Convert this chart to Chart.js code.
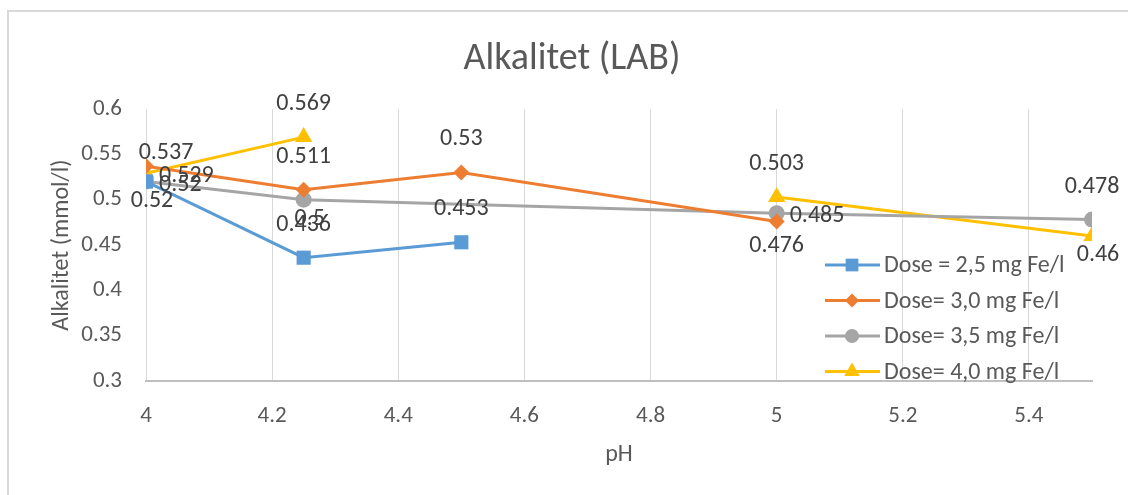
<!DOCTYPE html>
<html>
<head>
<meta charset="utf-8">
<script src="https://cdn.jsdelivr.net/npm/chart.js@4.4.1/dist/chart.umd.min.js"></script>
<style>
  html, body { margin: 0; padding: 0; background: #fff; }
  #wrap { position: relative; width: 1128px; height: 495px; overflow: hidden; }
  #frame { position: absolute; left: 7px; top: 10px; width: 1200px; height: 600px;
           border-left: 2px solid #d9d9d9; border-top: 2px solid #d9d9d9; }
  canvas { position: absolute; left: 0; top: 0; }
</style>
</head>
<body>
<div id="wrap">
  <div id="frame"></div>
  <canvas id="chart" width="1128" height="495"></canvas>
</div>
<script>
// pH values and measured alkalinity per iron dose (null = not measured)
const phValues = [4, 4.25, 4.5, 5, 5.5];
const dose25 = [0.52, 0.436, 0.453, null, null];
const dose30 = [0.537, 0.511, 0.53, 0.476, null];
const dose35 = [0.52, 0.5, null, 0.485, 0.478];
const dose40 = [0.529, 0.569, null, 0.503, 0.46];
const seriesNames = ['Dose = 2,5 mg Fe/l', 'Dose= 3,0 mg Fe/l', 'Dose= 3,5 mg Fe/l', 'Dose= 4,0 mg Fe/l'];
const chartTitle = 'Alkalitet (LAB)';

const FONT = 'Carlito, Lato, "Open Sans", sans-serif';
const TEXT = '#595959';

const toPoints = arr => phValues.map((x, i) => ({ x: x, y: arr[i] }));

function series(idx, values, color, style, radius, spanGaps, labelPos) {
  return {
    label: seriesNames[idx],
    data: toPoints(values),
    borderColor: color,
    backgroundColor: color,
    borderWidth: 3,
    pointStyle: style,
    pointRadius: radius,
    pointHoverRadius: radius,
    pointBorderWidth: 0,
    spanGaps: spanGaps,
    tension: 0,
    labelPos: labelPos
  };
}

// value labels next to each marker
const valueLabels = {
  id: 'valueLabels',
  afterDatasetsDraw(chart) {
    const ctx = chart.ctx;
    ctx.save();
    ctx.font = '24px ' + FONT;
    ctx.fillStyle = '#404040';
    ctx.textBaseline = 'middle';
    chart.data.datasets.forEach((ds, i) => {
      const meta = chart.getDatasetMeta(i);
      meta.data.forEach((pt, j) => {
        const v = ds.data[j].y;
        if (v == null) return;
        const pos = ds.labelPos[j];
        let x = pt.x, y = pt.y;
        ctx.textAlign = 'center';
        if (pos === 'above') y -= 33;
        else if (pos === 'below') { x += 6; y += 19; }
        else if (pos === 'belowFar') y += 25;
        else if (pos === 'right') { ctx.textAlign = 'left'; x += 13; y += 3; }
        else if (pos === 'aboveRight') { x += 20; y -= 13; }
        ctx.fillText(String(v), x, y);
      });
    });
    ctx.restore();
  }
};

// chart title, and the legend drawn inside the plot at bottom right
const overlay = {
  id: 'overlay',
  afterDraw(chart) {
    const ctx = chart.ctx;
    const area = chart.chartArea;
    ctx.save();
    ctx.font = '38px ' + FONT;
    ctx.fillStyle = TEXT;
    ctx.textAlign = 'center';
    ctx.textBaseline = 'middle';
    ctx.fillText(chartTitle, 572, 59);

    const x0 = area.right - 267;
    const y0 = area.bottom - 116;
    ctx.font = '24px ' + FONT;
    ctx.textAlign = 'left';
    chart.data.datasets.forEach((ds, i) => {
      const y = y0 + i * 35.5;
      ctx.strokeStyle = ds.borderColor;
      ctx.lineWidth = 3;
      ctx.beginPath();
      ctx.moveTo(x0, y);
      ctx.lineTo(x0 + 55, y);
      ctx.stroke();
      ctx.fillStyle = ds.backgroundColor;
      Chart.helpers.drawPoint(ctx, { pointStyle: ds.pointStyle, radius: ds.pointRadius - 1, rotation: 0, borderWidth: 0 }, x0 + 27, y);
      ctx.fillStyle = TEXT;
      ctx.fillText(ds.label, x0 + 59, y + 1);
    });
    ctx.restore();
  }
};

new Chart(document.getElementById('chart'), {
  type: 'line',
  data: {
    datasets: [
      series(0, dose25, '#5b9bd5', 'rect', 10, false, ['below', 'above', 'above']),
      series(1, dose30, '#ed7d31', 'rectRot', 8, false, ['aboveRight', 'above', 'above', 'belowFar']),
      series(2, dose35, '#a5a5a5', 'circle', 8, true, ['right', 'below', null, 'right', 'above']),
      series(3, dose40, '#ffc000', 'triangle', 10, false, ['right', 'above', null, 'above', 'below'])
    ]
  },
  options: {
    responsive: false,
    animation: false,
    layout: { padding: { left: 0, right: 36, top: 109, bottom: 0 } },
    scales: {
      x: {
        type: 'linear',
        min: 4,
        max: 5.5,
        afterFit: s => { s.height = 114; },
        ticks: {
          stepSize: 0.2,
          includeBounds: false,
          padding: 21,
          color: TEXT,
          font: { family: FONT, size: 23 },
          callback: v => parseFloat(v.toFixed(2))
        },
        grid: { color: '#d9d9d9', lineWidth: 1, drawTicks: false },
        border: { display: true, color: '#bfbfbf', width: 2 },
        title: {
          display: true,
          text: 'pH',
          color: TEXT,
          font: { family: FONT, size: 24 },
          padding: { bottom: 26 }
        }
      },
      y: {
        min: 0.3,
        max: 0.6,
        afterFit: s => { s.width = 146; },
        ticks: {
          stepSize: 0.05,
          padding: 24,
          color: TEXT,
          font: { family: FONT, size: 23 },
          callback: v => parseFloat(v.toFixed(2))
        },
        grid: { display: false, drawTicks: false },
        border: { display: false },
        title: {
          display: true,
          text: 'Alkalitet (mmol/l)',
          color: TEXT,
          font: { family: FONT, size: 24 },
          padding: { top: 48 }
        }
      }
    },
    plugins: {
      legend: { display: false },
      tooltip: { enabled: false },
      title: { display: false }
    }
  },
  plugins: [valueLabels, overlay]
});
</script>
</body>
</html>
